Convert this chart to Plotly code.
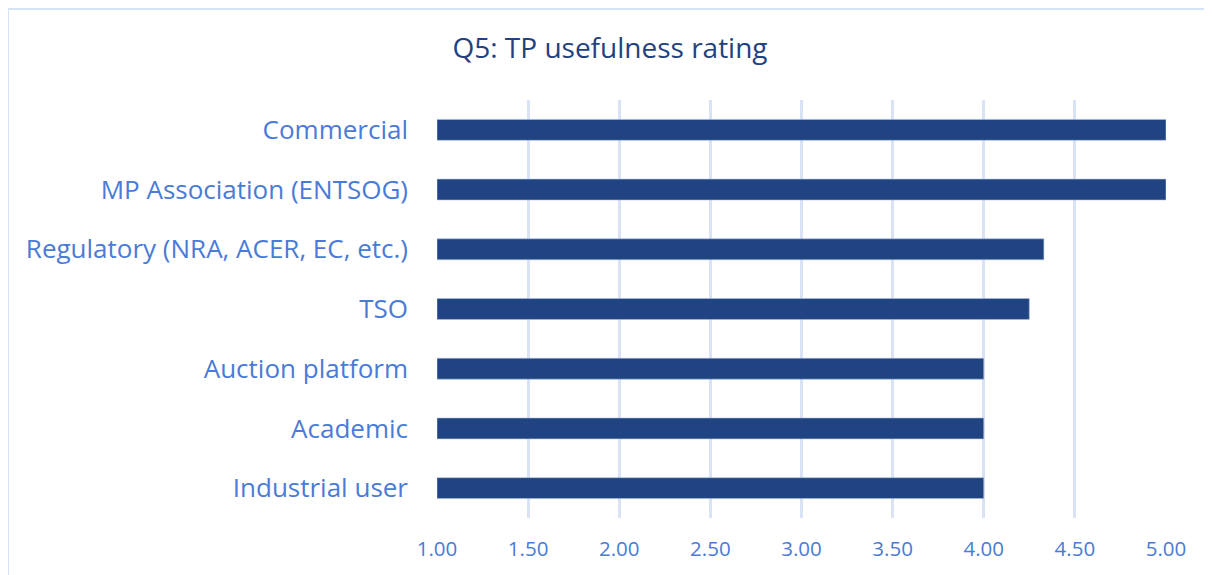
import plotly.graph_objects as go

categories = ["Industrial user", "Academic", "Auction platform", "TSO",
              "Regulatory (NRA, ACER, EC, etc.)", "MP Association (ENTSOG)", "Commercial"]
ratings = [4.00, 4.00, 4.00, 4.25, 4.33, 5.00, 5.00]
tick_vals = [1.0, 1.5, 2.0, 2.5, 3.0, 3.5, 4.0, 4.5, 5.0]
tick_text = ["1.00", "1.50", "2.00", "2.50", "3.00", "3.50", "4.00", "4.50", "5.00"]
title_text = "Q5: TP usefulness rating"

label_color = "#4A7BD6"
grid_color = "#D9E3F5"
frame_color = "#D6E2F5"

W, H = 1204, 567
L, R, T, B = 429, 46, 92, 57
PW, PH = W - L - R, H - T - B

fig = go.Figure()
fig.add_trace(go.Bar(
    y=categories, x=[r - 1.0 for r in ratings], base=1.0,
    orientation="h", width=0.35,
    marker=dict(color="#1F4481", line=dict(color="#AEBFDC", width=0.6)),
    hoverinfo="skip",
))

fig.update_layout(
    width=W, height=H,
    margin=dict(l=L, r=R, t=T, b=B),
    paper_bgcolor="white", plot_bgcolor="white",
    showlegend=False,
    font=dict(family="Open Sans, Liberation Sans, sans-serif", color=label_color),
    title=dict(text=title_text, x=(602 - L) / PW, xref="paper", xanchor="center",
               y=1 - 40 / H, yref="container", yanchor="middle",
               font=dict(size=28, color="#1F4280", family="Open Sans, sans-serif")),
    xaxis=dict(range=[1.0, 5.0], tickvals=tick_vals, ticktext=tick_text,
               showgrid=True, gridcolor=grid_color, gridwidth=2.5,
               zeroline=False, showline=False, ticks="",
               tickfont=dict(size=20.5, color=label_color), ticklabelstandoff=16),
    yaxis=dict(showgrid=False, zeroline=False, showline=False, ticks="",
               tickfont=dict(size=26, color=label_color), ticklabelstandoff=28,
               categoryorder="array", categoryarray=categories),
    shapes=[
        dict(type="line", xref="paper", yref="paper",
             x0=(-1 - L) / PW, x1=(W - L) / PW,
             y0=1 + (T - 1) / PH, y1=1 + (T - 1) / PH,
             line=dict(color=frame_color, width=2)),
        dict(type="line", xref="paper", yref="paper",
             x0=(0 - L) / PW, x1=(0 - L) / PW,
             y0=1 + (T - 1) / PH, y1=-(B + 5) / PH,
             line=dict(color=frame_color, width=2)),
    ],
)

fig.write_html("out.html")
